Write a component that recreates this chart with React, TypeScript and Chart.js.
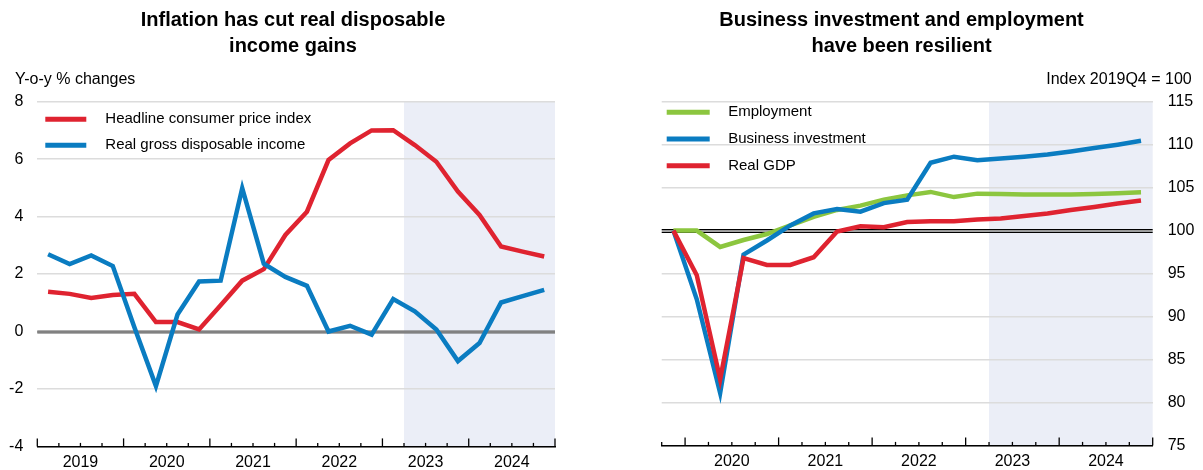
import React, { useEffect, useRef } from 'react';
import { Chart, registerables } from 'chart.js';

Chart.register(...registerables);

const FONT = "'Liberation Sans', Arial, Helvetica, sans-serif";

// ---------- Left chart data ----------
const leftQuarters = [
  '2019Q1', '2019Q2', '2019Q3', '2019Q4',
  '2020Q1', '2020Q2', '2020Q3', '2020Q4',
  '2021Q1', '2021Q2', '2021Q3', '2021Q4',
  '2022Q1', '2022Q2', '2022Q3', '2022Q4',
  '2023Q1', '2023Q2', '2023Q3', '2023Q4',
  '2024Q1', '2024Q2', '2024Q3', '2024Q4',
];
const headlineCpi = [
  1.38, 1.31, 1.17, 1.27, 1.31, 0.33, 0.33, 0.07,
  0.91, 1.77, 2.17, 3.36, 4.17, 5.97, 6.55, 7.0,
  7.01, 6.49, 5.91, 4.87, 4.06, 2.96, 2.78, 2.61,
];
const realGrossDisposableIncome = [
  2.69, 2.35, 2.65, 2.28, 0.15, -1.9, 0.59, 1.74,
  1.77, 4.99, 2.36, 1.9, 1.59, 0.0, 0.2, -0.11,
  1.13, 0.7, 0.07, -1.03, -0.4, 1.01, 1.23, 1.45,
];
const leftYTicks = [-4, -2, 0, 2, 4, 6, 8];

// ---------- Right chart data ----------
const rightQuarters = [
  '2019Q4',
  '2020Q1', '2020Q2', '2020Q3', '2020Q4',
  '2021Q1', '2021Q2', '2021Q3', '2021Q4',
  '2022Q1', '2022Q2', '2022Q3', '2022Q4',
  '2023Q1', '2023Q2', '2023Q3', '2023Q4',
  '2024Q1', '2024Q2', '2024Q3', '2024Q4',
];
const employment = [
  100, 100, 98.1, 98.9, 99.6, 100.6, 101.6, 102.4, 102.9, 103.6,
  104.1, 104.5, 103.9, 104.3, 104.25, 104.2, 104.2, 104.2, 104.25, 104.35, 104.45,
];
const businessInvestment = [
  100, 92.0, 81.1, 97.2, 98.85, 100.6, 102.0, 102.5, 102.2, 103.2,
  103.6, 107.9, 108.6, 108.2, 108.4, 108.6, 108.85, 109.2, 109.6, 110.0, 110.45,
];
const realGdp = [
  100, 94.8, 82.7, 96.8, 96.0, 96.0, 96.9, 99.9, 100.5, 100.4,
  101.0, 101.1, 101.1, 101.3, 101.4, 101.7, 102.0, 102.4, 102.75, 103.15, 103.5,
];
const rightYTicks = [75, 80, 85, 90, 95, 100, 105, 110, 115];

const projectionStart = '2023Q2';

const RED = '#df2330';
const BLUE = '#0a7cc1';
const GREEN = '#8cc63f';
const SHADE = '#ebeef7';
const GRID = '#dcdcdc';

// ---------- plugins ----------
const shadePlugin = {
  id: 'shade',
  beforeDraw(chart: any, _args: any, opts: any) {
    const { ctx, chartArea } = chart;
    const x = chart.scales.x;
    const labels = x.getLabels();
    const idx = labels.indexOf(opts.from);
    if (idx < 0) return;
    const step = x.getPixelForValue(1) - x.getPixelForValue(0);
    const px = x.getPixelForValue(idx) - step / 2;
    ctx.save();
    ctx.fillStyle = opts.color;
    ctx.fillRect(px, chartArea.top, chartArea.right - px, chartArea.bottom - chartArea.top);
    ctx.restore();
  },
};

const baselinePlugin = {
  id: 'baseline',
  beforeDatasetsDraw(chart: any, _args: any, opts: any) {
    const { ctx, chartArea } = chart;
    const y = Math.round(chart.scales.y.getPixelForValue(opts.value));
    ctx.save();
    if (opts.style === 'gray') {
      ctx.fillStyle = '#5a5a5a';
      ctx.fillRect(chartArea.left, y - 1.5, chartArea.right - chartArea.left, 3);
      ctx.fillStyle = '#a8a8a8';
      ctx.fillRect(chartArea.left, y - 0.5, chartArea.right - chartArea.left, 1);
    } else {
      ctx.fillStyle = '#000';
      ctx.fillRect(chartArea.left, y - 2, chartArea.right - chartArea.left, 1.3);
      ctx.fillRect(chartArea.left, y + 0.7, chartArea.right - chartArea.left, 1.3);
    }
    ctx.restore();
  },
};

const tickMarksPlugin = {
  id: 'tickMarks',
  afterDatasetsDraw(chart: any) {
    const { ctx, chartArea } = chart;
    const x = chart.scales.x;
    const labels: string[] = x.getLabels();
    const n = labels.length;
    const step = x.getPixelForValue(1) - x.getPixelForValue(0);
    ctx.save();
    ctx.strokeStyle = '#000';
    ctx.lineWidth = 1.3;
    for (let i = 0; i <= n; i++) {
      const px = i < n ? x.getPixelForValue(i) - step / 2 : x.getPixelForValue(n - 1) + step / 2;
      const major = i === n || labels[i].endsWith('Q1');
      const len = major ? 8 : 3.5;
      ctx.beginPath();
      ctx.moveTo(px, chartArea.bottom);
      ctx.lineTo(px, chartArea.bottom - len);
      ctx.stroke();
    }
    ctx.restore();
  },
};

const lineLegendPlugin = {
  id: 'lineLegend',
  afterDatasetsDraw(chart: any, _args: any, opts: any) {
    const { ctx, chartArea } = chart;
    ctx.save();
    ctx.font = `15px ${FONT}`;
    ctx.textBaseline = 'middle';
    ctx.textAlign = 'left';
    opts.order.forEach((dsIndex: number, k: number) => {
      const ds = chart.data.datasets[dsIndex];
      const y = chartArea.top + opts.top + k * opts.spacing;
      const x0 = chartArea.left + opts.x;
      ctx.strokeStyle = ds.borderColor;
      ctx.lineWidth = 5;
      ctx.lineCap = 'butt';
      ctx.beginPath();
      ctx.moveTo(x0, y);
      ctx.lineTo(x0 + opts.lineLen, y);
      ctx.stroke();
      ctx.fillStyle = '#000';
      ctx.fillText(ds.label, x0 + opts.lineLen + opts.gap, y);
    });
    ctx.restore();
  },
};

// Unit label (e.g. "Y-o-y % changes") drawn above the plot area
const unitLabelPlugin = {
  id: 'unitLabel',
  afterDraw(chart: any, _args: any, opts: any) {
    const { ctx } = chart;
    ctx.save();
    ctx.font = `16px ${FONT}`;
    ctx.fillStyle = '#000';
    ctx.textBaseline = 'middle';
    ctx.textAlign = opts.align;
    ctx.fillText(opts.text, opts.x, opts.y);
    ctx.restore();
  },
};

function lineDataset(label: string, data: number[], color: string) {
  return {
    label,
    data,
    borderColor: color,
    backgroundColor: color,
    borderWidth: 4.5,
    pointRadius: 0,
    pointHoverRadius: 0,
    tension: 0,
    fill: false,
    xAxisID: 'x',
    yAxisID: 'y',
  };
}

function titleOpts(lines: string[]) {
  return {
    display: true,
    text: lines,
    color: '#000',
    font: { family: FONT, size: 20, weight: 'bold', lineHeight: '26px' },
    padding: { top: 7, bottom: 42.7 },
  };
}

function xScale(labelOffset: number) {
  return {
    type: 'category',
    offset: true,
    grid: { display: true, drawOnChartArea: false, drawTicks: false },
    border: { display: true, color: '#000', width: 1.5 },
    ticks: {
      autoSkip: false,
      maxRotation: 0,
      minRotation: 0,
      padding: 7,
      labelOffset,
      color: '#000',
      font: { family: FONT, size: 16 },
      callback(this: any, value: any) {
        const l: string = this.getLabelForValue(value);
        return l.endsWith('Q2') ? l.slice(0, 4) : '';
      },
    },
    afterFit(s: any) {
      s.height = 21.7;
    },
  };
}

function padScale(position: string, width: number) {
  return {
    type: 'linear',
    position,
    display: true,
    min: 0,
    max: 1,
    ticks: { display: false },
    grid: { display: false },
    border: { display: false },
    afterFit(s: any) {
      s.width = width;
    },
  };
}

function leftConfig(): any {
  return {
    type: 'line',
    data: {
      labels: leftQuarters,
      datasets: [
        lineDataset('Real gross disposable income', realGrossDisposableIncome, BLUE),
        lineDataset('Headline consumer price index', headlineCpi, RED),
      ],
    },
    plugins: [shadePlugin, baselinePlugin, tickMarksPlugin, lineLegendPlugin, unitLabelPlugin],
    options: {
      responsive: false,
      animation: false,
      events: [],
      layout: { padding: { left: 0, right: 0, top: 0, bottom: 0 } },
      plugins: {
        legend: { display: false },
        tooltip: { enabled: false },
        title: titleOpts(['Inflation has cut real disposable', 'income gains']),
        unitLabel: { text: 'Y-o-y % changes', x: 15, y: 80, align: 'left' },
        shade: { from: projectionStart, color: SHADE },
        baseline: { value: 0, style: 'gray' },
        lineLegend: { order: [1, 0], x: 8, lineLen: 41, gap: 19, top: 17.6, spacing: 26 },
      },
      scales: {
        x: xScale(10.8),
        y: {
          type: 'linear',
          position: 'left',
          min: leftYTicks[0],
          max: leftYTicks[leftYTicks.length - 1],
          ticks: {
            stepSize: 2,
            padding: 14,
            color: '#000',
            font: { family: FONT, size: 16 },
            callback: (v: any) => String(v),
          },
          grid: { color: GRID, lineWidth: 1.5, drawTicks: false },
          border: { display: false },
          afterFit(s: any) {
            s.width = 37.3;
          },
        },
        yPad: padScale('right', 31),
      },
    },
  };
}

function rightConfig(): any {
  return {
    type: 'line',
    data: {
      labels: rightQuarters,
      datasets: [
        lineDataset('Real GDP', realGdp, RED),
        lineDataset('Business investment', businessInvestment, BLUE),
        lineDataset('Employment', employment, GREEN),
      ],
    },
    plugins: [shadePlugin, baselinePlugin, tickMarksPlugin, lineLegendPlugin, unitLabelPlugin],
    options: {
      responsive: false,
      animation: false,
      events: [],
      layout: { padding: { left: 0, right: 0, top: 0, bottom: 0 } },
      plugins: {
        legend: { display: false },
        tooltip: { enabled: false },
        title: titleOpts(['Business investment and employment', 'have been resilient']),
        unitLabel: { text: 'Index 2019Q4 = 100', x: 591.7, y: 80, align: 'right' },
        shade: { from: projectionStart, color: SHADE },
        baseline: { value: 100, style: 'black' },
        lineLegend: { order: [2, 1, 0], x: 5, lineLen: 43, gap: 18.5, top: 10.6, spacing: 26.7 },
      },
      scales: {
        x: xScale(11.7),
        y: {
          type: 'linear',
          position: 'right',
          min: rightYTicks[0],
          max: rightYTicks[rightYTicks.length - 1],
          ticks: {
            stepSize: 5,
            padding: 15,
            color: '#000',
            font: { family: FONT, size: 16 },
            callback: (v: any) => String(v),
          },
          grid: { color: GRID, lineWidth: 1.5, drawTicks: false },
          border: { display: false },
          afterFit(s: any) {
            s.width = 50.3;
          },
        },
        yPad: padScale('left', 61.7),
      },
    },
  };
}

function ChartCanvas({ make, left, width }: { make: () => any; left: number; width: number }) {
  const ref = useRef<HTMLCanvasElement | null>(null);
  useEffect(() => {
    if (!ref.current) return;
    const chart = new Chart(ref.current, make());
    return () => chart.destroy();
  }, [make]);
  return (
    <canvas
      ref={ref}
      width={width}
      height={470}
      style={{ position: 'absolute', left, top: 0, width, height: 470 }}
    />
  );
}

export default function App() {
  return (
    <div
      style={{
        position: 'fixed',
        left: 0,
        top: 0,
        width: 1203,
        height: 470,
        background: '#fff',
        overflow: 'hidden',
      }}
    >
      <ChartCanvas make={leftConfig} left={0} width={586} />
      <ChartCanvas make={rightConfig} left={600} width={603} />
    </div>
  );
}
